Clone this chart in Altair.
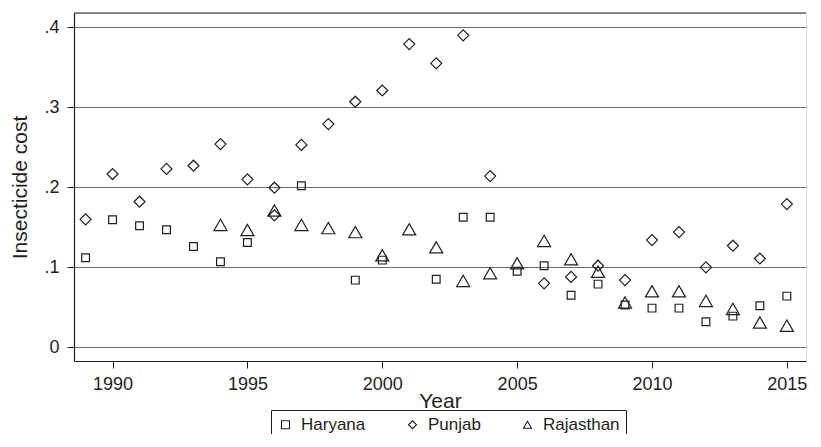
import altair as alt
import pandas as pd

states = ["Haryana", "Punjab", "Rajasthan"]
shapes = ["square", "diamond", "triangle-up"]

haryana_years = [1989, 1990, 1991, 1992, 1993, 1994, 1995, 1997, 1999, 2000, 2002, 2003,
                 2004, 2005, 2006, 2007, 2008, 2009, 2010, 2011, 2012, 2013, 2014, 2015]
haryana_cost = [0.112, 0.1595, 0.152, 0.147, 0.126, 0.107, 0.131, 0.202, 0.084, 0.109, 0.085, 0.1625,
                0.1625, 0.095, 0.102, 0.065, 0.079, 0.053, 0.049, 0.049, 0.032, 0.039, 0.052, 0.064]

punjab_years = [1989, 1990, 1991, 1992, 1993, 1994, 1995, 1996, 1996, 1997, 1998, 1999, 2000,
                2001, 2002, 2003, 2004, 2006, 2007, 2008, 2009, 2010, 2011, 2012, 2013, 2014, 2015]
punjab_cost = [0.160, 0.2166, 0.182, 0.223, 0.227, 0.254, 0.210, 0.1995, 0.165, 0.253, 0.279, 0.307, 0.321,
               0.379, 0.355, 0.390, 0.214, 0.080, 0.088, 0.102, 0.084, 0.134, 0.144, 0.100, 0.127, 0.111, 0.179]

rajasthan_years = [1994, 1995, 1996, 1997, 1998, 1999, 2000, 2001, 2002, 2003, 2004, 2005,
                   2006, 2007, 2008, 2009, 2010, 2011, 2012, 2013, 2014, 2015]
rajasthan_cost = [0.153, 0.1466, 0.171, 0.153, 0.149, 0.144, 0.115, 0.1475, 0.125, 0.083, 0.0925, 0.105,
                  0.133, 0.110, 0.0945, 0.056, 0.070, 0.070, 0.058, 0.048, 0.031, 0.027]

x_ticks = [1990, 1995, 2000, 2005, 2010, 2015]
y_ticks = [0, 0.1, 0.2, 0.3, 0.4]
y_top = 0.4179

rows = []
for yrs, vals, st in [(haryana_years, haryana_cost, "Haryana"),
                      (punjab_years, punjab_cost, "Punjab"),
                      (rajasthan_years, rajasthan_cost, "Rajasthan")]:
    for y, v in zip(yrs, vals):
        rows.append({"year": y, "cost": v, "state": st})
df = pd.DataFrame(rows)

W, H = 732, 348
INK = "#1e1e1e"
FONT = "Liberation Sans"

x_enc = alt.X("year:Q",
              scale=alt.Scale(domain=[1988.57, 2015.71], nice=False, zero=False),
              axis=alt.Axis(values=x_ticks, format="d", title="Year", grid=False,
                            tickSize=7, tickColor=INK, domainColor=INK, domainWidth=1.2,
                            labelPadding=7, labelFontSize=18, labelColor=INK, labelFont=FONT,
                            titleFontSize=21, titleFont=FONT, titleFontWeight="normal", titleColor=INK,
                            titleY=46, titleBaseline="alphabetic"))
y_scale = alt.Scale(domain=[-0.0171, y_top], nice=False, zero=False)
y_enc = alt.Y("cost:Q",
              scale=y_scale,
              axis=alt.Axis(values=y_ticks,
                            labelExpr="datum.value == 0 ? '0' : replace(format(datum.value, '.1f'), '0.', '.')",
                            title="Insecticide cost", grid=True, gridColor="#6a6a6a", gridWidth=1.2,
                            tickSize=7, tickColor=INK, domainColor=INK, domainWidth=1.2,
                            labelPadding=8, labelFontSize=18, labelColor=INK, labelFont=FONT,
                            titleFontSize=21, titleFont=FONT, titleFontWeight="normal", titleColor=INK,
                            titleAngle=270, titleX=-48, titleY=174, titleAlign="center",
                            titleBaseline="alphabetic"))
shape_enc = alt.Shape("state:N",
                      scale=alt.Scale(domain=states, range=shapes),
                      legend=alt.Legend(title=None, orient="none", legendX=197, legendY=397,
                                        direction="horizontal", strokeColor=INK, padding=6,
                                        labelFontSize=17, labelFont=FONT, labelColor=INK,
                                        symbolSize=64, symbolStrokeWidth=1.1, symbolStrokeColor=INK,
                                        symbolFillColor="white", columnPadding=38, labelOffset=7))

sizes = {"Haryana": 60, "Punjab": 121, "Rajasthan": 170}
layers = []
for st in states:
    layers.append(
        alt.Chart(df).transform_filter(alt.datum.state == st)
        .mark_point(filled=False, strokeWidth=1.2, color=INK, opacity=1, size=sizes[st])
        .encode(x=x_enc, y=y_enc, shape=shape_enc)
    )

frame = alt.Chart(pd.DataFrame({"a": [0]})).mark_rule(color=INK, strokeWidth=1.2).encode(
    y=alt.Y(datum=y_top, scale=y_scale)
)

chart = alt.layer(*layers, frame).properties(
    width=W, height=H,
    padding={"left": 66, "top": 5, "right": 6, "bottom": 73},
    autosize=alt.AutoSizeParams(type="none"),
).configure_view(stroke="transparent", strokeWidth=0).configure(font=FONT)

chart.save("out.html", embed_options={"renderer": "svg", "actions": False})
